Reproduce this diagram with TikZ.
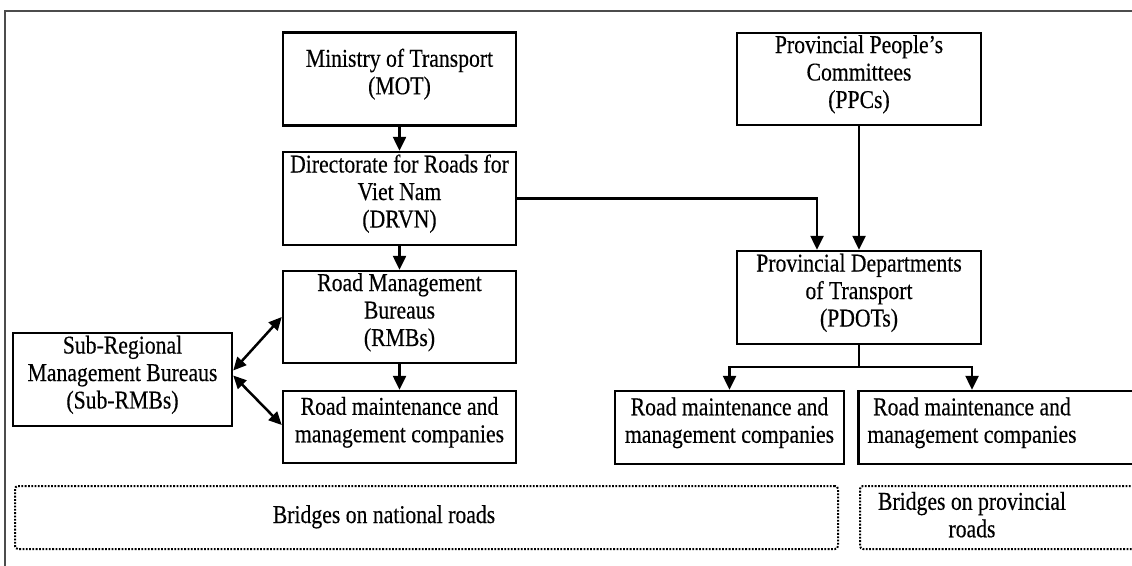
\documentclass[tikz,border=0pt]{standalone}
\usepackage{fontspec}
\usepackage{graphicx}
\setmainfont[FakeBold=0.35]{Liberation Serif}
\usetikzlibrary{arrows.meta,calc}
\newcommand{\tx}[2][4pt]{\raisebox{#1}[\height][\depth]{\scalebox{1}[1.18]{\begin{tabular}{@{}c@{}}#2\end{tabular}}}}
\begin{document}
\begin{tikzpicture}[x=1pt,y=-1pt,
  orgbox/.style={draw=black,line width=2.5pt,inner sep=0pt,align=center,
    font=\fontsize{21.7}{23.3}\selectfont},
  txt/.style={inner sep=0pt,align=center,font=\fontsize{21.7}{23.3}\selectfont},
  dotbox/.style={draw=black,line width=2pt,dash pattern=on 1.8pt off 1.5pt,rounded corners=3pt},
  arr/.style={line width=2.5pt,-{Triangle[length=14pt,width=13pt]}},
  darr/.style={line width=2.5pt,{Triangle[length=13pt,width=12pt]}-{Triangle[length=13pt,width=12pt]}},
  frameline/.style={draw=black!70,line width=1.6pt}]
\useasboundingbox (0,0) rectangle (1132,565);
\clip (0,0) rectangle (1132,565);
% frame
\draw[frameline] (1140,11) -- (5,11) -- (5,575);
% left column
\node[orgbox,minimum width=233pt,minimum height=93pt] (mot) at (399.5,79) {\tx{Ministry of Transport\\(MOT)}};
\node[orgbox,minimum width=233pt,minimum height=93pt] (drvn) at (399.5,198.5) {\tx{Directorate for Roads for\\Viet Nam\\(DRVN)}};
\node[orgbox,minimum width=233pt,minimum height=92pt] (rmb) at (399.5,317) {\tx{Road Management\\Bureaus\\(RMBs)}};
\node[orgbox,minimum width=233pt,minimum height=72pt] (rmc1) at (399.5,427) {\tx{Road maintenance and\\management companies}};
\node[orgbox,minimum width=219pt,minimum height=93pt] (sub) at (122.5,379.5) {\tx{Sub-Regional\\Management Bureaus\\(Sub-RMBs)}};
% right column
\node[orgbox,minimum width=244pt,minimum height=92pt] (ppc) at (859,79) {\tx{Provincial People’s\\Committees\\(PPCs)}};
\node[orgbox,minimum width=244pt,minimum height=93pt] (pdot) at (859,297.5) {\tx{Provincial Departments\\of Transport\\(PDOTs)}};
\node[orgbox,minimum width=229pt,minimum height=73pt] (rmc2) at (729.5,427.5) {\tx{Road maintenance and\\management companies}};
\node[orgbox,minimum width=300pt,minimum height=73pt,anchor=west] (rmc3) at (857,427.5) {};
\node[txt] (rmc3t) at (972,427.5) {\tx{Road maintenance and\\management companies}};
% dotted boxes
\node[dotbox,minimum width=823pt,minimum height=63pt] (nat) at (426.5,517.5) {};
\node[txt] (natt) at (384,517.5) {\tx[0pt]{Bridges on national roads}};
\node[dotbox,minimum width=300pt,minimum height=63pt,anchor=west] (prov) at (859,517.5) {};
\node[txt] (provt) at (972,518) {\tx[0pt]{Bridges on provincial\\roads}};
% connectors
\draw[arr] (mot.south) -- (drvn.north);
\draw[arr] (drvn.south) -- (rmb.north);
\draw[arr] (rmb.south) -- (rmc1.north);
\draw[arr] (ppc.south) -- (pdot.north);
\draw[arr] (drvn.east) -| ([xshift=-42pt]pdot.north);
\coordinate (split) at (859,367);
\draw[line width=2.5pt] (pdot.south) -- (split);
\draw[arr] (split) -| (rmc2.north);
\draw[arr] (split) -| (rmc3t |- rmc3.north);
\draw[darr] ([yshift=9pt]sub.east) -- (rmb.west);
\draw[darr] ([yshift=4pt]sub.east) -- ([yshift=2pt]rmc1.west);
\end{tikzpicture}
\end{document}
